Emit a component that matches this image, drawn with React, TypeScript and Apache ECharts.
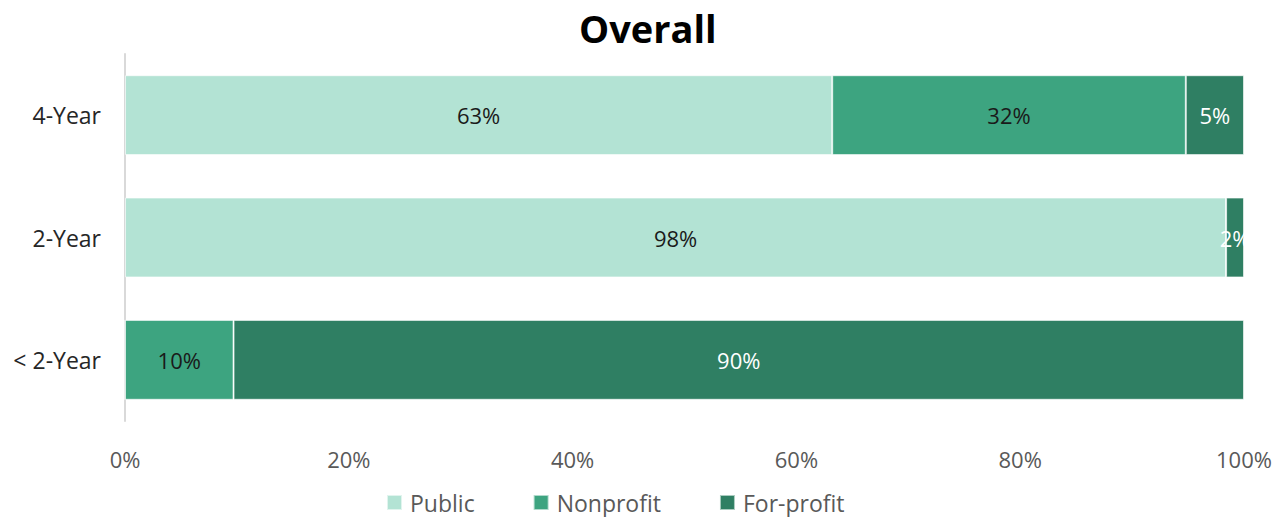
import React, { useEffect, useRef } from "react";
import * as echarts from "echarts";

const categories = ["< 2-Year", "2-Year", "4-Year"];
const publicValues = [0, 98.4, 63.2];
const nonprofitValues = [9.7, 0, 31.6];
const forprofitValues = [90.3, 1.6, 5.2];
const seriesNames = ["Public", "Nonprofit", "For-profit"];
const colors = ["#B3E3D4", "#3DA480", "#2F7F63"];
const labelColors = ["#1a1a1a", "#1a1a1a", "#ffffff"];

const FONT = "'Open Sans', 'Noto Sans', sans-serif";
const FS = 22;

export default function App() {
  const ref = useRef<HTMLDivElement>(null);
  useEffect(() => {
    if (!ref.current) return;
    const chart = echarts.init(ref.current, undefined, { renderer: "svg" });
    const data = [publicValues, nonprofitValues, forprofitValues];
    chart.setOption({
      animation: false,
      title: {
        text: "Overall",
        left: 571,
        top: 0,
        padding: 0,
        textStyle: { fontFamily: "'Open Sans', sans-serif", fontWeight: 700, fontSize: 38, lineHeight: 40, color: "#000" },
      },
      grid: { left: 117, right: 31, top: 46, bottom: 96 },
      legend: {
        top: 483,
        padding: 0,
        left: 378,
        itemWidth: 15,
        itemHeight: 15,
        itemGap: 58,
        icon: "rect",
        textStyle: { fontFamily: FONT, fontSize: 23, color: "#595959", padding: [0, 0, 0, 3] },
        data: seriesNames,
      },
      xAxis: {
        type: "value",
        min: 0,
        max: 100,
        interval: 20,
        splitLine: { show: false },
        axisLine: { show: false },
        axisTick: { show: false },
        axisLabel: {
          formatter: "{value}%",
          fontFamily: FONT,
          fontSize: FS,
          color: "#595959",
          margin: 27,
        },
      },
      yAxis: {
        type: "category",
        data: categories,
        axisLine: { show: true, lineStyle: { color: "#d9d9d9", width: 2 } },
        axisTick: { show: false },
        axisLabel: { fontFamily: FONT, fontSize: 23, color: "#262626", margin: 24 },
      },
      series: seriesNames.map((name, i) => ({
        name,
        type: "bar",
        stack: "total",
        barCategoryGap: "34.7%",
        data: data[i],
        itemStyle: { color: colors[i], borderColor: "rgba(255,255,255,0.6)", borderWidth: 1 },
        label: {
          show: true,
          position: "inside",
          fontFamily: FONT,
          fontSize: FS,
          color: labelColors[i],
          formatter: (p: any) => (p.value > 0 ? Math.round(p.value) + "%" : ""),
        },
      })),
    });
    return () => chart.dispose();
  }, []);
  return <div ref={ref} style={{ width: 1267, height: 509 }} />;
}
